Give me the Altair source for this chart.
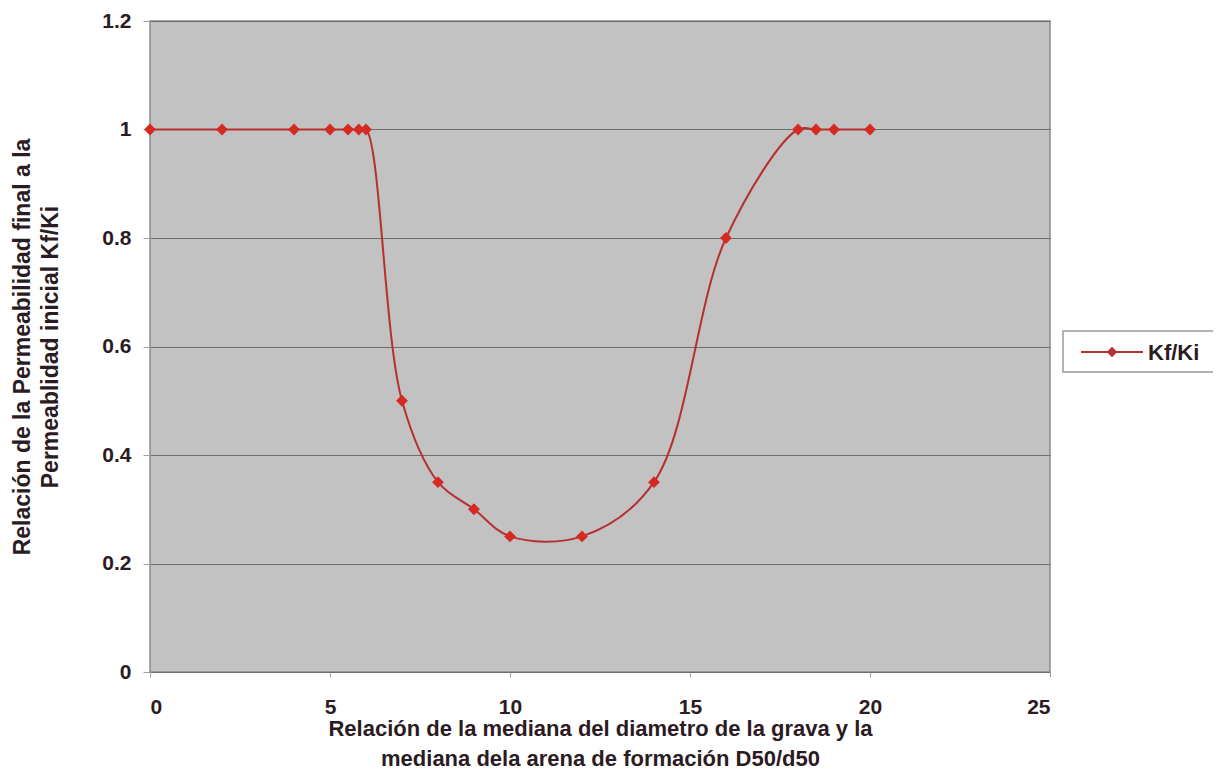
import altair as alt
import pandas as pd

ratio = [0, 2, 4, 5, 5.5, 5.8, 6, 7, 8, 9, 10, 12, 14, 16, 18, 18.5, 19, 20]
kf_ki = [1, 1, 1, 1, 1, 1, 1, 0.5, 0.35, 0.3, 0.25, 0.25, 0.35, 0.8, 1, 1, 1, 1]
series_name = "Kf/Ki"

df = pd.DataFrame({"x": ratio, "y": kf_ki, "s": [series_name] * len(ratio)})
legend_df = pd.DataFrame({"label": [series_name]})

FONT = "Liberation Sans"
TXT = "#2b1b22"
LINE = "#b5302e"
MARK = "#d42a22"

W, H = 900, 651

x_enc = alt.X(
    "x:Q",
    scale=alt.Scale(domain=[0, 25], nice=False),
    axis=alt.Axis(
        values=[0, 5, 10, 15, 20, 25],
        format="d",
        grid=False,
        domain=False,
        ticks=True,
        tickSize=5,
        tickColor="#a0a0a0",
        labelFont=FONT,
        labelFontSize=21,
        labelFontWeight="bold",
        labelColor=TXT,
        labelPadding=19,
        title=["Relación  de la mediana del diametro de la grava y la",
               "mediana dela arena de formación D50/d50"],
        titleFont=FONT,
        titleFontSize=22,
        titleFontWeight="bold",
        titleColor=TXT,
        titleLineHeight=30,
        titleBaseline="top",
        titleY=46,
    ),
)
y_enc = alt.Y(
    "y:Q",
    scale=alt.Scale(domain=[0, 1.2], nice=False),
    axis=alt.Axis(
        values=[0, 0.2, 0.4, 0.6, 0.8, 1, 1.2],
        labelExpr="datum.value == 0 ? '0' : datum.value == 1 ? '1' : format(datum.value, '.1f')",
        grid=True,
        gridColor="#6e6e6e",
        gridWidth=1,
        domain=False,
        tickSize=7,
        tickColor="#a0a0a0",
        labelFont=FONT,
        labelFontSize=21,
        labelFontWeight="bold",
        labelColor=TXT,
        labelPadding=12,
        title=["Relación de la Permeabilidad final a la",
               "Permeablidad inicial Kf/Ki"],
        titleFont=FONT,
        titleFontSize=23,
        titleFontWeight="bold",
        titleColor=TXT,
        titleLineHeight=28,
        titleAngle=-90,
        titleAlign="center",
        titleBaseline="middle",
        titleX=-128,
        titleY=H / 2,
    ),
)

line = alt.Chart(df).mark_line(
    interpolate="catmull-rom", color=LINE, strokeWidth=2
).encode(x=x_enc, y=y_enc)

pts = alt.Chart(df).mark_point(
    shape="diamond", filled=True, size=140, color=MARK, opacity=1
).encode(x="x:Q", y="y:Q")

leg_box = alt.Chart(legend_df).mark_rect(
    fill="white", stroke="#9a9a9a", strokeWidth=1.5
).encode(x=alt.value(913), x2=alt.value(1067), y=alt.value(310), y2=alt.value(351))

leg_line = alt.Chart(legend_df).mark_rule(color=LINE, strokeWidth=2).encode(
    x=alt.value(931), x2=alt.value(993), y=alt.value(331)
)
leg_pt = alt.Chart(legend_df).mark_point(
    shape="diamond", filled=True, size=110, color=LINE, opacity=1
).encode(x=alt.value(962), y=alt.value(331))
leg_txt = alt.Chart(legend_df).mark_text(
    align="left", baseline="middle", font=FONT, fontSize=22, fontWeight="bold", color=TXT
).encode(x=alt.value(998), y=alt.value(332), text="label:N")

chart = alt.layer(line, pts, leg_box, leg_line, leg_pt, leg_txt).properties(
    width=W,
    height=H,
    autosize=alt.AutoSizeParams(type="none"),
    padding={"left": 142, "top": 13, "right": 163, "bottom": 100},
    background="white",
).configure_view(
    fill="#c2c2c2", stroke="#8a8a8a", strokeWidth=1.5
)

chart.save("out.html", embed_options={"renderer": "svg", "actions": False})
